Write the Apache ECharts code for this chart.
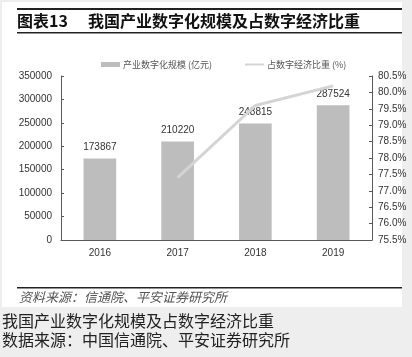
<!DOCTYPE html>
<html><head><meta charset="utf-8">
<script src="https://cdn.jsdelivr.net/npm/echarts@6/dist/echarts.min.js"></script>
<style>html,body{margin:0;padding:0;background:#eeeeee;}#c{width:412px;height:357px;}</style>
</head><body><div id="c"></div>
<script>
const categories = ['2016','2017','2018','2019'];
const scaleValues = [173867, 210220, 248815, 287524];
const shareValues = [null, 77.4, 79.6, 80.2];
const titleLabel = '图表13';
const titleText = '我国产业数字化规模及占数字经济比重';
const sourceText = '资料来源：信通院、平安证券研究所';
const captionLine1 = '我国产业数字化规模及占数字经济比重';
const captionLine2 = '数据来源：中国信通院、平安证券研究所';
const barName = '产业数字化规模 (亿元)';
const lineName = '占数字经济比重 (%)';

const chart = echarts.init(document.getElementById('c'), null, {renderer:'canvas'});
const narrow = '"Liberation Sans Narrow", "Arial Narrow", "Liberation Sans", sans-serif';
const cjk = '"Noto Sans CJK SC", sans-serif';
chart.setOption({
  backgroundColor: '#eeeeee',
  animation: false,
  graphic: [
    {type:'rect', shape:{x:2,y:2,width:400,height:305}, style:{fill:'#ffffff'}, z:-10},
    {type:'rect', shape:{x:17,y:8,width:385,height:2}, style:{fill:'#222'}},
    {type:'text', left:17, top:13, style:{text:titleLabel, font:'bold 16px "Noto Sans CJK SC", sans-serif', fill:'#111'}},
    {type:'text', left:88, top:13, style:{text:titleText, font:'bold 16px "Noto Sans CJK SC", sans-serif', fill:'#111'}},
    {type:'rect', shape:{x:17,y:32,width:385,height:1.5}, style:{fill:'#222'}},
    {type:'rect', shape:{x:17,y:287,width:385,height:1.5}, style:{fill:'#222'}},
    {type:'text', left:19, top:291, style:{text:sourceText, font:'italic 13px "Noto Sans CJK SC", sans-serif', fill:'#555'}},
    {type:'text', left:2, top:313, style:{text:captionLine1, font:'16px "Noto Sans CJK SC", sans-serif', fill:'#222'}},
    {type:'text', left:2, top:332, style:{text:captionLine2, font:'16px "Noto Sans CJK SC", sans-serif', fill:'#222'}}
  ],
  legend: [
    {data:[{name:barName, icon:'rect'}], left:96, top:55, itemWidth:19, itemHeight:5, itemGap:4,
     textStyle:{fontSize:9, color:'#555', fontFamily:cjk, padding:[0,0,0,-2]}},
    {data:[{name:lineName, icon:'rect'}], left:240, top:55, itemWidth:19, itemHeight:2, itemGap:4,
     textStyle:{fontSize:9, color:'#555', fontFamily:cjk, padding:[0,0,0,-2]}}
  ],
  grid: {left:61, right:40, top:76, bottom:117},
  xAxis: {
    type:'category', data:categories,
    axisLine:{lineStyle:{color:'#595959', width:1}},
    axisTick:{inside:true, length:3, lineStyle:{color:'#595959'}},
    axisLabel:{fontSize:10, color:'#333', fontFamily:narrow, margin:8}
  },
  yAxis: [
    {type:'value', min:0, max:350000, interval:50000,
     axisLine:{show:true, lineStyle:{color:'#595959'}},
     axisTick:{show:true, inside:true, length:3, lineStyle:{color:'#595959'}},
     splitLine:{show:false},
     axisLabel:{fontSize:10, color:'#333', fontFamily:narrow, margin:9, formatter:v=>String(v)}},
    {type:'value', min:75.5, max:80.5, interval:0.5, position:'right',
     axisLine:{show:true, lineStyle:{color:'#595959'}},
     axisTick:{show:true, inside:true, length:3, lineStyle:{color:'#595959'}},
     splitLine:{show:false},
     axisLabel:{fontSize:10, color:'#333', fontFamily:narrow, margin:6, formatter:v=>v.toFixed(1)+'%'}}
  ],
  series: [
    {name:barName, type:'bar', data:scaleValues, barWidth:'42%',
     itemStyle:{color:'#bdbdbd'},
     label:{show:true, position:'top', distance:6, fontSize:10, color:'#333', fontFamily:narrow}},
    {name:lineName, type:'line', yAxisIndex:1, data:shareValues, symbol:'none',
     lineStyle:{color:'#d4d4d4', width:3}, itemStyle:{color:'#d4d4d4'}, connectNulls:false}
  ]
});
</script></body></html>
